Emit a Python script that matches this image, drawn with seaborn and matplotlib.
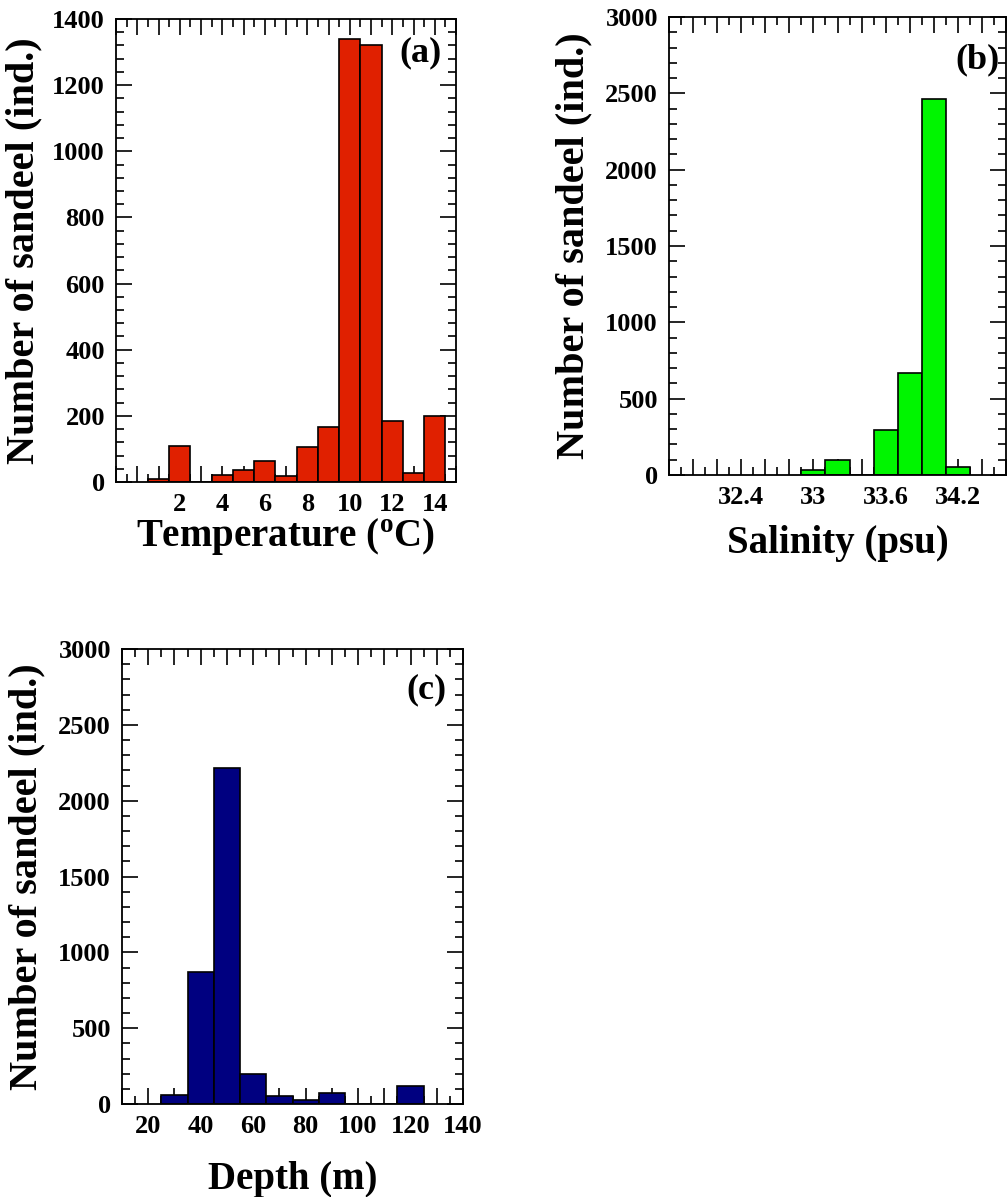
import numpy as np
import pandas as pd
import matplotlib
matplotlib.use('Agg')
import matplotlib.pyplot as plt
from matplotlib.ticker import MultipleLocator, FuncFormatter
import seaborn as sns

sns.set_style("ticks")
plt.rcParams['font.family'] = ['Liberation Serif', 'DejaVu Serif']
plt.rcParams['font.weight'] = 'bold'
plt.rcParams['mathtext.fontset'] = 'custom'
plt.rcParams['mathtext.rm'] = 'Liberation Serif:bold'
plt.rcParams['mathtext.bf'] = 'Liberation Serif:bold'
plt.rcParams['axes.edgecolor'] = 'black'
plt.rcParams['axes.labelcolor'] = 'black'
plt.rcParams['text.color'] = 'black'
plt.rcParams['xtick.color'] = 'black'
plt.rcParams['ytick.color'] = 'black'

# データ (bin centres / counts)
temp_bins = [1, 2, 3, 4, 5, 6, 7, 8, 9, 10, 11, 12, 13, 14]
temp_counts = [10, 110, 0, 20, 35, 65, 18, 105, 165, 1340, 1320, 183, 28, 200]

sal_bins = [33.0, 33.2, 33.4, 33.6, 33.8, 34.0, 34.2]
sal_counts = [30, 100, 0, 295, 665, 2465, 50]

depth_bins = [30, 40, 50, 60, 70, 80, 90, 100, 110, 120]
depth_counts = [60, 870, 2215, 200, 50, 28, 70, 0, 0, 120]

df_t = pd.DataFrame({"x": temp_bins, "n": temp_counts})
df_s = pd.DataFrame({"x": sal_bins, "n": sal_counts})
df_d = pd.DataFrame({"x": depth_bins, "n": depth_counts})

W, H = 1007, 1197
fig = plt.figure(figsize=(W / 100, H / 100), dpi=100)


def box(l, t, r, b):
    return [l / W, 1 - b / H, (r - l) / W, (b - t) / H]


def style(ax, xmaj, xmin, ymaj, ymin, fmt):
    ax.xaxis.set_major_locator(MultipleLocator(xmaj))
    ax.xaxis.set_minor_locator(MultipleLocator(xmin))
    ax.yaxis.set_major_locator(MultipleLocator(ymaj))
    ax.yaxis.set_minor_locator(MultipleLocator(ymin))
    ax.xaxis.set_major_formatter(FuncFormatter(fmt))
    ax.tick_params(which='both', direction='in', top=True, right=True, width=1.2, labelsize=19)
    ax.tick_params(which='major', length=11.5, pad=8)
    ax.tick_params(which='minor', length=5.8)
    for s in ax.spines.values():
        s.set_linewidth(1.3)
        s.set_visible(True)
    for lab in ax.get_xticklabels() + ax.get_yticklabels():
        lab.set_fontweight('bold')


def fmt_t(v, p):
    return f"{v:g}" if v > 0 and abs(v / 2 - round(v / 2)) < 1e-6 else ""


def fmt_s(v, p):
    k = (v - 32.4) / 0.6
    return f"{round(v, 1):g}" if v > 32.3 and abs(k - round(k)) < 1e-6 else ""


def fmt_d(v, p):
    return f"{v:g}" if v >= 20 and abs(v / 20 - round(v / 20)) < 1e-6 else ""


ylab = "Number of sandeel (ind.)"
lab_fs = 29

# (a) 水温
ax1 = fig.add_axes(box(116, 19, 456, 482))
sns.histplot(data=df_t, x="x", weights="n", binwidth=1, binrange=(0.5, 14.5),
             color="#E02000", edgecolor="black", linewidth=1.2, alpha=1, ax=ax1)
ax1.set_xlim(-1, 15)
ax1.set_ylim(0, 1400)
style(ax1, 1, 0.5, 200, 40, fmt_t)
ax1.set_xlabel(r"Temperature ($^{\mathbf{o}}$C)", fontsize=28, fontweight='bold')
ax1.set_ylabel(ylab, fontsize=lab_fs, fontweight='bold')
ax1.xaxis.set_label_coords(0.5, -0.075)
ax1.yaxis.set_label_coords(-0.215, 0.5)
ax1.text(0.897, 0.927, "(a)", transform=ax1.transAxes, ha='center', va='center',
         fontsize=26, fontweight='bold')

# (b) 塩分
ax2 = fig.add_axes(box(669, 17, 1006, 475))
sns.histplot(data=df_s, x="x", weights="n", binwidth=0.2, binrange=(32.9, 34.3),
             color="#00F500", edgecolor="black", linewidth=1.2, alpha=1, ax=ax2)
ax2.set_xlim(31.8, 34.6)
ax2.set_ylim(0, 3000)
style(ax2, 0.2, 0.1, 500, 100, fmt_s)
ax2.set_xlabel("Salinity (psu)", fontsize=28, fontweight='bold')
ax2.set_ylabel(ylab, fontsize=lab_fs, fontweight='bold')
ax2.xaxis.set_label_coords(0.5, -0.11)
ax2.yaxis.set_label_coords(-0.226, 0.5)
ax2.text(0.914, 0.906, "(b)", transform=ax2.transAxes, ha='center', va='center',
         fontsize=26, fontweight='bold')

# (c) 水深
ax3 = fig.add_axes(box(122, 649, 463, 1104))
sns.histplot(data=df_d, x="x", weights="n", binwidth=10, binrange=(25, 125),
             color="#000080", edgecolor="black", linewidth=1.2, alpha=1, ax=ax3)
ax3.set_xlim(10, 140)
ax3.set_ylim(0, 3000)
style(ax3, 10, 5, 500, 100, fmt_d)
ax3.set_xlabel("Depth (m)", fontsize=28, fontweight='bold')
ax3.set_ylabel(ylab, fontsize=lab_fs, fontweight='bold')
ax3.xaxis.set_label_coords(0.5, -0.125)
ax3.yaxis.set_label_coords(-0.226, 0.5)
ax3.text(0.894, 0.91, "(c)", transform=ax3.transAxes, ha='center', va='center',
         fontsize=26, fontweight='bold')

plt.savefig("out.png", dpi=100)
